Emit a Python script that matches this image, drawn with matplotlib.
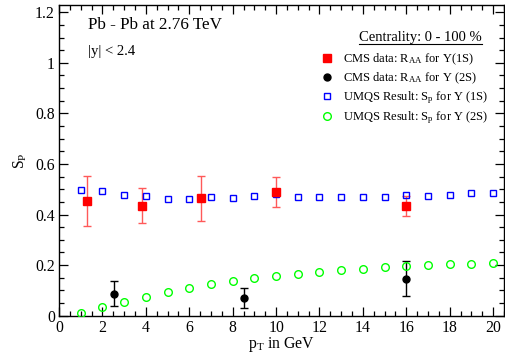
import matplotlib
matplotlib.use("Agg")
import matplotlib.pyplot as plt
from matplotlib.ticker import MultipleLocator, FormatStrFormatter
from matplotlib.lines import Line2D

plt.rcParams['font.family'] = ['Liberation Serif', 'DejaVu Serif']
plt.rcParams['mathtext.fontset'] = 'custom'
plt.rcParams['mathtext.rm'] = 'Liberation Serif'
plt.rcParams['mathtext.it'] = 'Liberation Serif:italic'

# UMQS results
umqs_pt = [1, 2, 3, 4, 5, 6, 7, 8, 9, 10, 11, 12, 13, 14, 15, 16, 17, 18, 19, 20]
umqs_1s = [0.497, 0.492, 0.479, 0.475, 0.462, 0.460, 0.470, 0.466, 0.475, 0.480,
           0.468, 0.468, 0.469, 0.470, 0.471, 0.476, 0.473, 0.476, 0.487, 0.487]
umqs_2s = [0.012, 0.033, 0.053, 0.074, 0.094, 0.111, 0.125, 0.138, 0.150, 0.158,
           0.166, 0.174, 0.181, 0.186, 0.191, 0.195, 0.199, 0.203, 0.206, 0.210]

# CMS data
cms1_pt = [1.3, 3.84, 6.56, 10.0, 16.0]
cms1_val = [0.454, 0.435, 0.464, 0.488, 0.435]
cms1_err = [0.100, 0.070, 0.090, 0.060, 0.040]

cms2_pt = [2.53, 8.51, 16.0]
cms2_val = [0.087, 0.070, 0.147]
cms2_err = [0.050, 0.040, 0.070]

W, H = 505, 356
fig = plt.figure(figsize=(W / 100, H / 100), dpi=100)
L, R, T, B = 59, 504, 4.7, 315.7
ax = fig.add_axes([L / W, 1 - B / H, (R - L) / W, (B - T) / H])

ax.errorbar(cms1_pt, cms1_val, yerr=cms1_err, fmt='none', ecolor=(1, 0.35, 0.35),
            elinewidth=1.0, capsize=3.2, capthick=1.0, zorder=3)
ax.errorbar(cms2_pt, cms2_val, yerr=cms2_err, fmt='none', ecolor='black',
            elinewidth=1.0, capsize=3.2, capthick=1.0, zorder=3)

h_u1, = ax.plot(umqs_pt, umqs_1s, ls='none', marker='s', ms=5, mfc='none',
                mec='blue', mew=1.0, zorder=4)
h_u2, = ax.plot(umqs_pt, umqs_2s, ls='none', marker='o', ms=5.5, mfc='none',
                mec=(0, 1, 0), mew=1.0, zorder=4)
h_c1, = ax.plot(cms1_pt, cms1_val, ls='none', marker='s', ms=6.3, color='red', zorder=5)
h_c2, = ax.plot(cms2_pt, cms2_val, ls='none', marker='o', ms=5, color='black', zorder=5)

ax.set_xlim(0, 20.5)
ax.set_ylim(0, 1.23)
ax.xaxis.set_major_locator(MultipleLocator(2))
ax.xaxis.set_minor_locator(MultipleLocator(0.5))
ax.yaxis.set_major_locator(MultipleLocator(0.2))
ax.yaxis.set_minor_locator(MultipleLocator(0.05))
ax.yaxis.set_major_formatter(FormatStrFormatter('%g'))
ax.xaxis.set_major_formatter(FormatStrFormatter('%g'))
ax.tick_params(which='both', direction='in', top=True, right=True, labelsize=11.3, pad=3)
ax.tick_params(which='major', length=6.5, width=0.9)
ax.tick_params(which='minor', length=3.3, width=0.9)
for s in ax.spines.values():
    s.set_linewidth(1.0)

ax.set_xlabel(r'p$_{\rm T}$ in GeV', fontsize=11.3)
ax.xaxis.set_label_coords(0.5, -0.094)
ax.xaxis.label.set_va('center')
ax.set_ylabel(r'S$_{\rm P}$', fontsize=11.3)
ax.yaxis.set_label_coords(-0.088, 0.5)
ax.yaxis.label.set_va('center')

ax.text(0.065, 0.935, 'Pb - Pb at 2.76 TeV', transform=ax.transAxes, fontsize=12.3,
        ha='left', va='center')
ax.text(0.065, 0.85, '|y| < 2.4', transform=ax.transAxes, fontsize=10.5,
        ha='left', va='center')

ct = ax.text(0.812, 0.893, 'Centrality: 0 - 100 %', transform=ax.transAxes, fontsize=10.5,
             ha='center', va='center')
fig.canvas.draw()
bb = ct.get_window_extent(fig.canvas.get_renderer())
inv = ax.transAxes.inverted()
(x0, y0), (x1, y1) = inv.transform([(bb.x0, bb.y0), (bb.x1, bb.y0)])
ax.add_line(Line2D([x0, x1], [0.875, 0.875], transform=ax.transAxes, color='black', lw=0.8))

handles = [h_c1, h_c2, h_u1, h_u2]
labels = [r'CMS data: R$_{\rm AA}$ for Y(1S)', r'CMS data: R$_{\rm AA}$ for Y (2S)',
          r'UMQS Result: S$_{\rm p}$ for Y (1S)', r'UMQS Result: S$_{\rm p}$ for Y (2S)']
ax.legend(handles, labels, loc='upper left', bbox_to_anchor=(0.588, 0.848), frameon=False,
          fontsize=9, handlelength=1.0, handletextpad=0.8, labelspacing=0.27,
          borderpad=0, borderaxespad=0)

fig.savefig('out.png', dpi=100)
